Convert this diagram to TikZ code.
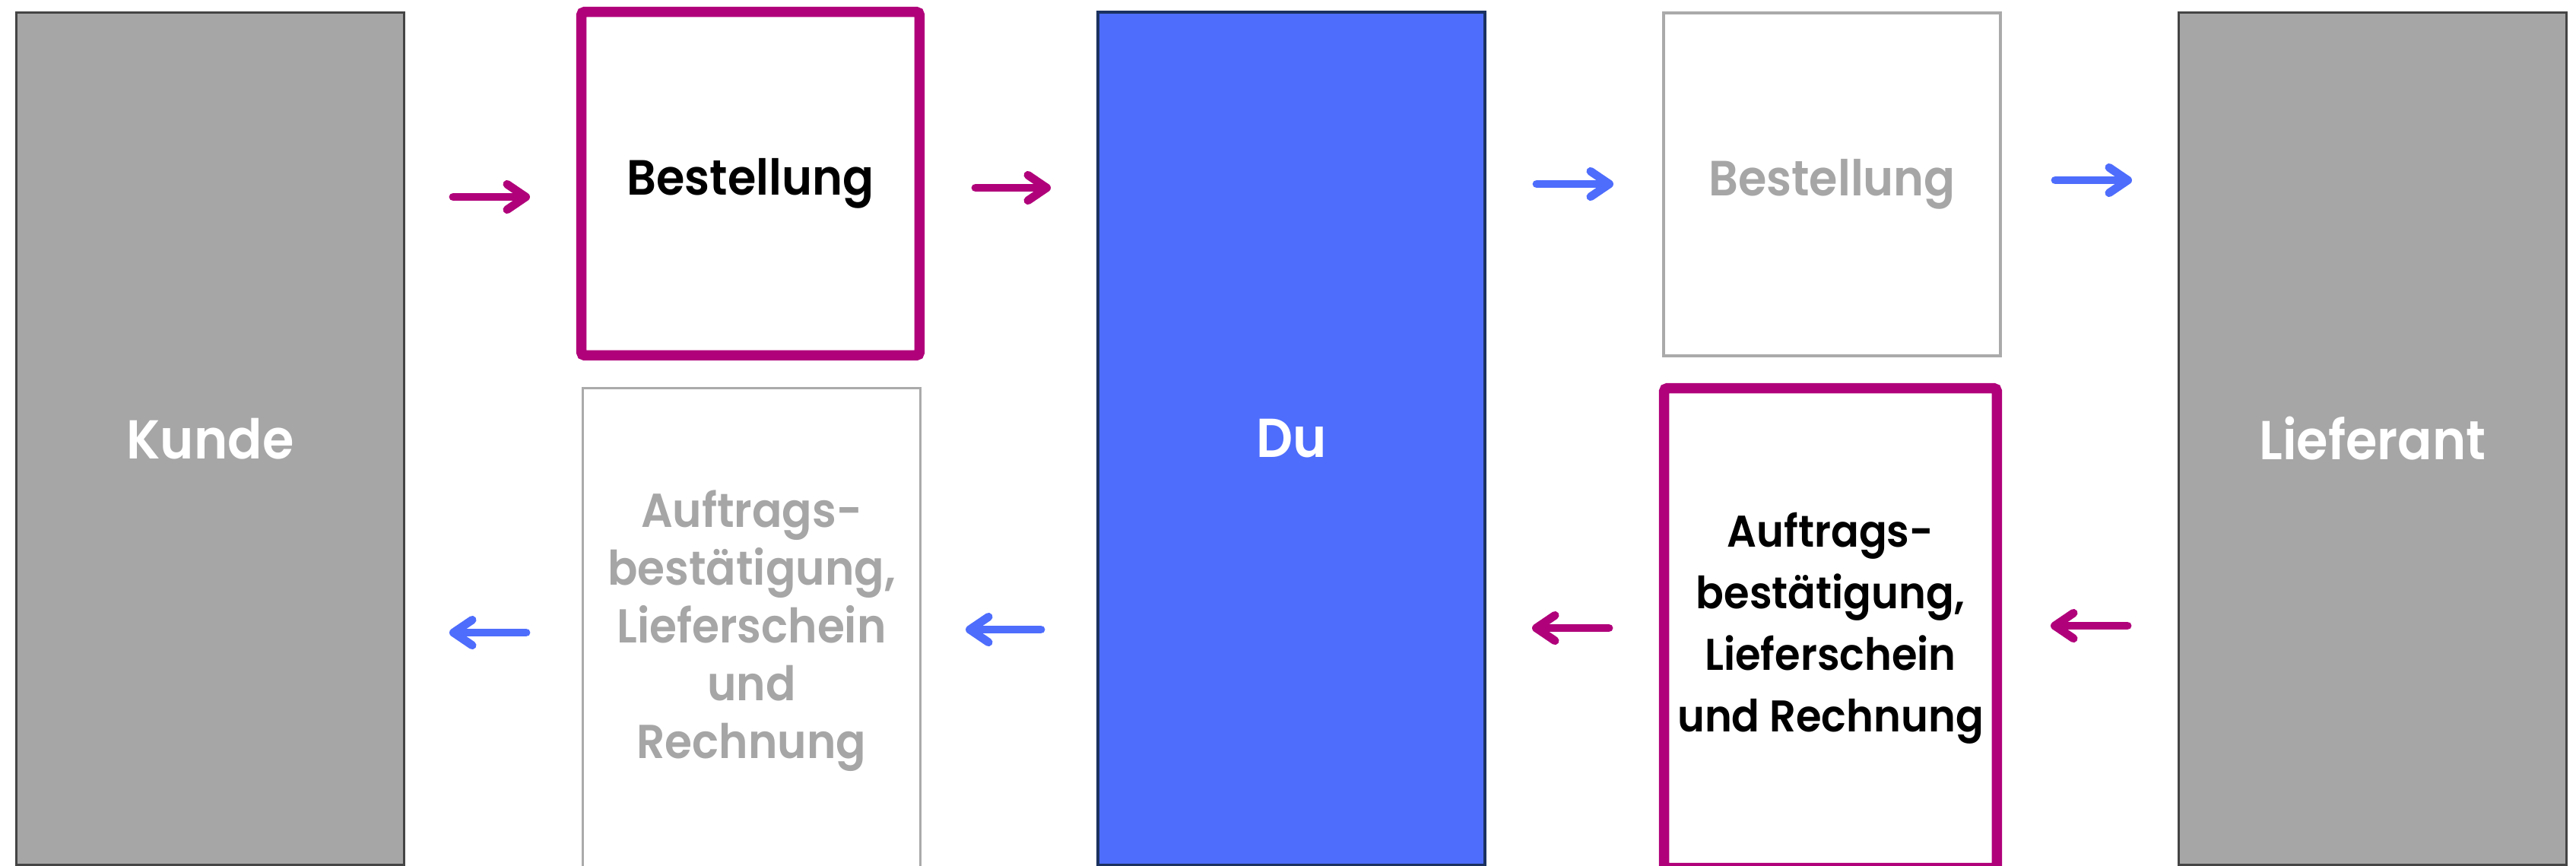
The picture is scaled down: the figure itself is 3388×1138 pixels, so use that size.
\documentclass[tikz,border=0pt]{standalone}
\usepackage{fontspec}
\setmainfont{Poppins}[BoldFont={Poppins SemiBold}, BoldFeatures={FakeStretch=0.93}]
\usepackage{tikz}
\usetikzlibrary{arrows.meta, calc, positioning}

\definecolor{lila}{HTML}{B0007A}
\definecolor{blau}{HTML}{4E6DFC}
\definecolor{navy}{HTML}{1B3260}
\definecolor{grau}{HTML}{A6A6A6}
\definecolor{rand}{HTML}{AAAAAA}
\definecolor{dunkel}{HTML}{444444}

\tikzset{
    partei/.style={draw=dunkel, fill=grau, line width=0.85pt, minimum width=5.10cm, minimum height=11.21cm,
        text=white, font=\bfseries\fontsize{20.5}{24}\selectfont},
    aktiv/.style={draw=lila, line width=3.8pt, rounded corners=0.04cm, fill=white, text=black, inner sep=0pt},
    passiv/.style={draw=rand, line width=1pt, fill=white, text=grau, inner sep=0pt},
    pfeil/.style={line width=3.1pt, line cap=round, -{Straight Barb[length=7pt, width=9.5pt, round]}}
}

\begin{document}
\begin{tikzpicture}[x=0.01cm, y=-0.01cm]
    \useasboundingbox (0, 0) rectangle (3388, 1138);
    \clip (0, 0) rectangle (3388, 1138);

    \node[partei] (kunde) at (276.5, 577) {Kunde};
    \node[partei, draw=navy, fill=blau, line width=1.1pt, minimum width=5.09cm, minimum height=11.22cm] (du) at (1698.5, 577) {Du};
    \node[partei] (lieferant) at (3120.5, 577) {Lieferant};

    \node[aktiv, minimum width=4.445cm, minimum height=4.515cm, font=\bfseries\fontsize{18.5}{22}\selectfont] (best1) at (987, 241.5) {Bestellung};
    \node[passiv, minimum width=4.43cm, minimum height=4.51cm, font=\bfseries\fontsize{18.5}{22}\selectfont] (best2) at (2409.5, 242.5) {Bestellung};

    \node[passiv, minimum width=4.435cm, minimum height=6.385cm, align=center, font=\bfseries\fontsize{17.8}{21.6}\selectfont] (ab1) at (988.5, 830) {Auftrags-\\bestätigung,\\Lieferschein\\und\\Rechnung};
    \node[aktiv, minimum width=4.375cm, minimum height=6.305cm, align=center, font=\bfseries\fontsize{16.6}{23}\selectfont] (ab2) at (2407.5, 826) {Auftrags-\\bestätigung,\\Lieferschein\\und Rechnung};

    % pfeile oben
    \coordinate (m1a) at (596, 259);  \coordinate (m1b) at (697, 259);
    \coordinate (m2a) at (1283, 247); \coordinate (m2b) at (1382, 247);
    \coordinate (b1a) at (2021, 242); \coordinate (b1b) at (2122, 242);
    \coordinate (b2a) at (2703, 237); \coordinate (b2b) at (2804, 237);
    % pfeile unten
    \coordinate (b3a) at (692, 832);  \coordinate (b3b) at (591, 832);
    \coordinate (b4a) at (1369, 828); \coordinate (b4b) at (1270, 828);
    \coordinate (m3a) at (2116, 826); \coordinate (m3b) at (2015, 826);
    \coordinate (m4a) at (2798, 823); \coordinate (m4b) at (2697, 823);

    \draw[pfeil, lila] (m1a) -- (m1b);
    \draw[pfeil, lila] (m2a) -- (m2b);
    \draw[pfeil, blau] (b1a) -- (b1b);
    \draw[pfeil, blau] (b2a) -- (b2b);
    \draw[pfeil, blau] (b3a) -- (b3b);
    \draw[pfeil, blau] (b4a) -- (b4b);
    \draw[pfeil, lila] (m3a) -- (m3b);
    \draw[pfeil, lila] (m4a) -- (m4b);
\end{tikzpicture}
\end{document}
